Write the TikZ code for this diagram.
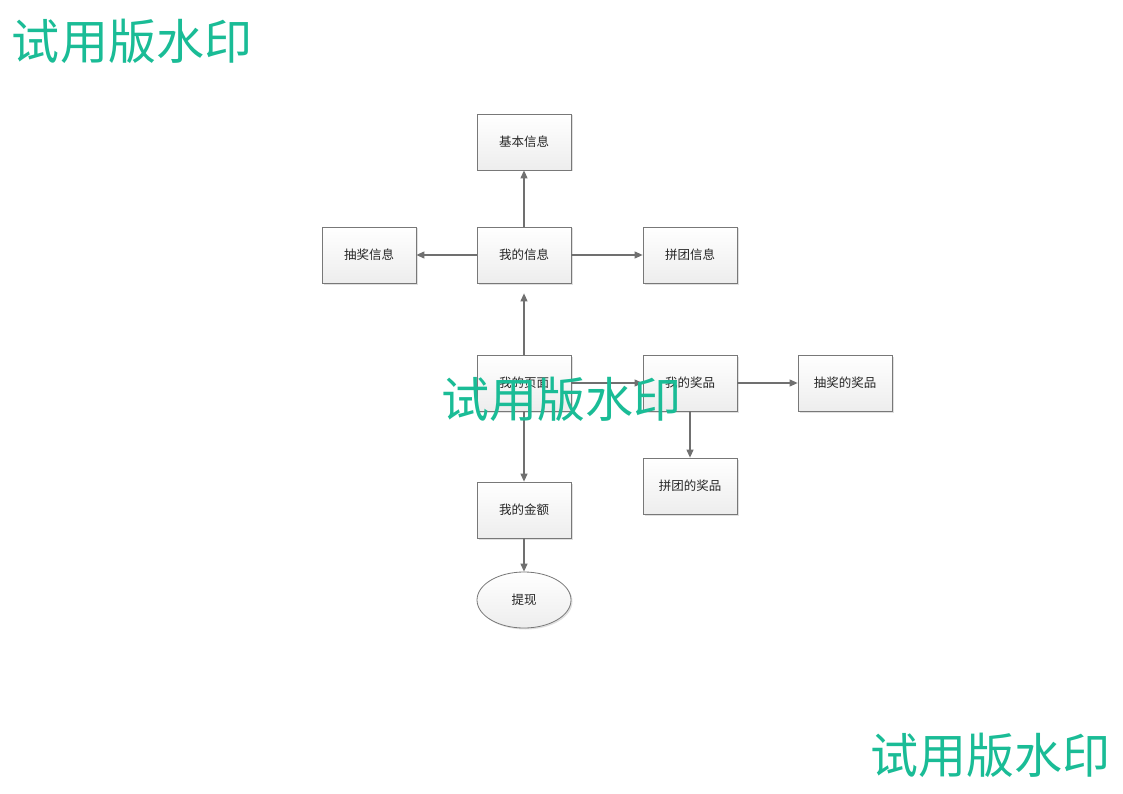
\documentclass[tikz,border=0pt]{standalone}
\usepackage{fontspec}
\setmainfont{Noto Sans CJK SC}
\newfontfamily\cjk{Noto Sans CJK SC}
\usetikzlibrary{arrows.meta,shadows,shapes.geometric}
\definecolor{wmgreen}{RGB}{26,188,150}
\definecolor{edgegray}{RGB}{112,112,112}
\definecolor{boxborder}{RGB}{120,120,120}
\tikzset{
  box/.style={rectangle, draw=boxborder, line width=0.8pt, minimum width=94pt, minimum height=56pt,
    top color=white, bottom color=black!7, inner sep=0pt,
    drop shadow={shadow xshift=1.5pt, shadow yshift=-1.5pt, fill=black, opacity=0.12},
    font=\cjk\fontsize{12.5pt}{14pt}\selectfont, text=black!85},
  oval/.style={box, ellipse},
  conn/.style={draw=edgegray, line width=1.1pt, -{Triangle[length=8pt,width=7pt]}},
  wm/.style={text=wmgreen, font=\cjk\fontsize{48pt}{50pt}\selectfont, inner sep=0pt}
}
\begin{document}
\begin{tikzpicture}[x=1pt,y=-1pt]
\useasboundingbox (0,0) rectangle (1123,794);
\fill[white] (0,0) rectangle (1123,794);
\node[box] (jbxx) at (524,142) {基本信息};
\node[box] (wdxx) at (524,255) {我的信息};
\node[box] (cjxx) at (369,255) {抽奖信息};
\node[box] (ptxx) at (690,255) {拼团信息};
\node[box] (wdym) at (524,383) {我的页面};
\node[box] (wdjp) at (690,383) {我的奖品};
\node[box] (cjjp) at (845,383) {抽奖的奖品};
\node[box] (ptjp) at (690,486) {拼团的奖品};
\node[box] (wdje) at (524,510) {我的金额};
\node[oval, minimum width=94pt, minimum height=56pt] (tx) at (524,600) {提现};

\draw[conn] (wdxx) -- (jbxx);
\draw[conn] (wdxx) -- (cjxx);
\draw[conn] (wdxx) -- (ptxx);
\draw[conn, shorten >=10pt] (wdym) -- (wdxx);
\draw[conn] (wdym) -- (wdjp);
\draw[conn] (wdym) -- (wdje);
\draw[conn] (wdjp) -- (cjjp);
\draw[conn] (wdjp) -- (ptjp);
\draw[conn] (wdje) -- (tx);

\node[wm] (wm1) at (132,41) {试用版水印};
\node[wm] (wm2) at (561,399) {试用版水印};
\node[wm] (wm3) at (990,755) {试用版水印};
\end{tikzpicture}
\end{document}
